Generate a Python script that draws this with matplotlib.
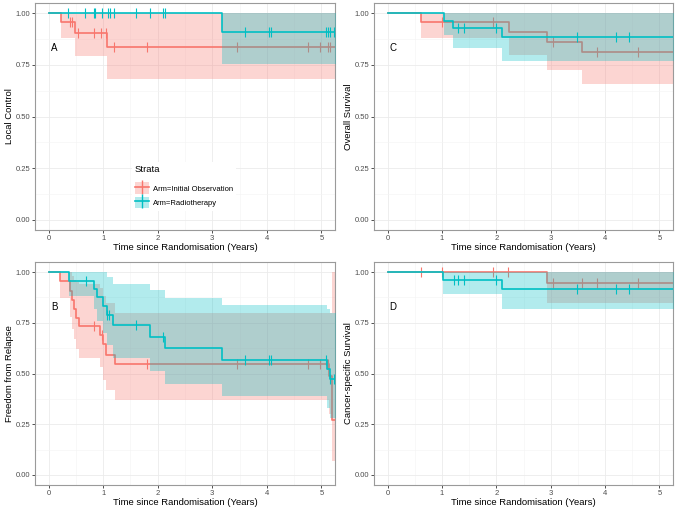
import numpy as np
import matplotlib
matplotlib.use("Agg")
import matplotlib.pyplot as plt
from matplotlib.patches import Patch
from matplotlib.lines import Line2D

plt.rcParams['font.family'] = ['Liberation Sans', 'DejaVu Sans']

RED = '#F8766D'
TEAL = '#00BFC4'
TMAX = 5.3

# ---------------- Panel A: Local Control ----------------
A_obs_t = [0, 0.22, 0.48, 1.07]
A_obs_s = [1.0, 0.956, 0.906, 0.835]
A_obs_lo = [1.0, 0.879, 0.792, 0.682]
A_obs_hi = [1.0, 1.0, 1.0, 1.0]
A_obs_cens = [0.40, 0.43, 0.54, 0.84, 0.96, 1.05, 1.20, 1.80, 3.45, 4.76, 4.97, 5.12, 5.15]
A_rt_t = [0, 3.17]
A_rt_s = [1.0, 0.909]
A_rt_lo = [1.0, 0.754]
A_rt_hi = [1.0, 1.0]
A_rt_cens = [0.36, 0.67, 0.83, 0.85, 0.97, 1.08, 1.12, 1.20, 1.60, 1.86, 2.10, 2.14,
             3.60, 4.04, 4.07, 5.09, 5.13, 5.15, 5.23]

# ---------------- Panel B: Freedom from Relapse ----------------
B_obs_t = [0, 0.21, 0.40, 0.43, 0.47, 0.50, 0.55, 0.94, 1.00, 1.05, 1.22, 5.14, 5.19]
B_obs_s = [1.0, 0.955, 0.909, 0.864, 0.818, 0.773, 0.736, 0.690, 0.644, 0.592, 0.545, 0.49, 0.27]
B_obs_lo = [1.0, 0.874, 0.78, 0.72, 0.67, 0.62, 0.575, 0.53, 0.47, 0.42, 0.37, 0.30, 0.07]
B_obs_hi = [1.0, 1.0, 1.0, 0.98, 0.96, 0.95, 0.94, 0.92, 0.88, 0.85, 0.80, 0.80, 1.0]
B_obs_cens = [0.83, 0.97, 1.80, 3.45, 4.76, 4.97, 5.10, 5.13]
B_rt_t = [0, 0.37, 0.83, 0.88, 0.99, 1.07, 1.18, 1.86, 2.14, 3.17, 5.10, 5.15]
B_rt_s = [1.0, 0.958, 0.917, 0.875, 0.833, 0.789, 0.737, 0.680, 0.625, 0.568, 0.52, 0.474]
B_rt_lo = [1.0, 0.882, 0.82, 0.76, 0.70, 0.64, 0.578, 0.513, 0.448, 0.39, 0.33, 0.28]
B_rt_hi = [1.0, 1.0, 1.0, 1.0, 1.0, 0.976, 0.942, 0.91, 0.872, 0.837, 0.82, 0.80]
B_rt_cens = [0.68, 1.07, 1.10, 1.60, 2.10, 3.60, 4.04, 4.07, 5.09, 5.15, 5.23]

# ---------------- Panel C: Overall Survival ----------------
C_obs_t = [0, 0.61, 2.23, 2.94, 3.57]
C_obs_s = [1.0, 0.958, 0.909, 0.861, 0.811]
C_obs_lo = [1.0, 0.879, 0.798, 0.727, 0.659]
C_obs_hi = [1.0, 1.0, 1.0, 1.0, 1.0]
C_obs_cens = [1.0, 1.94, 3.05, 3.85, 4.61]
C_rt_t = [0, 1.04, 1.20, 2.11]
C_rt_s = [1.0, 0.963, 0.927, 0.887]
C_rt_lo = [1.0, 0.896, 0.834, 0.771]
C_rt_hi = [1.0, 1.0, 1.0, 1.0]
C_rt_cens = [1.29, 1.41, 1.99, 3.48, 4.20, 4.44]

# ---------------- Panel D: Cancer-specific Survival ----------------
D_obs_t = [0, 2.94]
D_obs_s = [1.0, 0.947]
D_obs_lo = [1.0, 0.85]
D_obs_hi = [1.0, 1.0]
D_obs_cens = [0.61, 1.0, 1.94, 2.22, 3.05, 3.57, 3.85, 4.61]
D_rt_t = [0, 1.02, 2.11]
D_rt_s = [1.0, 0.961, 0.919]
D_rt_lo = [1.0, 0.893, 0.817]
D_rt_hi = [1.0, 1.0, 1.0]
D_rt_cens = [1.22, 1.29, 1.41, 1.99, 3.48, 4.20, 4.44]

y_ticks = [0.0, 0.25, 0.5, 0.75, 1.0]
y_ticklabels = ['0.00', '0.25', '0.50', '0.75', '1.00']
x_ticks = [0, 1, 2, 3, 4, 5]
x_ticklabels = ['0', '1', '2', '3', '4', '5']
legend_labels = ['Arm=Initial Observation', 'Arm=Radiotherapy']
xlabel = 'Time since Randomisation (Years)'

panels = [
    dict(pos=[35/677, 1-230/515, 300/677, 227/515], ylabel='Local Control', tag='A',
         obs=(A_obs_t, A_obs_s, A_obs_lo, A_obs_hi, A_obs_cens),
         rt=(A_rt_t, A_rt_s, A_rt_lo, A_rt_hi, A_rt_cens), legend=True),
    dict(pos=[374/677, 1-230/515, 299/677, 227/515], ylabel='Overall Survival', tag='C',
         obs=(C_obs_t, C_obs_s, C_obs_lo, C_obs_hi, C_obs_cens),
         rt=(C_rt_t, C_rt_s, C_rt_lo, C_rt_hi, C_rt_cens), legend=False),
    dict(pos=[35/677, 1-485/515, 300/677, 223/515], ylabel='Freedom from Relapse', tag='B',
         obs=(B_obs_t, B_obs_s, B_obs_lo, B_obs_hi, B_obs_cens),
         rt=(B_rt_t, B_rt_s, B_rt_lo, B_rt_hi, B_rt_cens), legend=False),
    dict(pos=[374/677, 1-485/515, 299/677, 223/515], ylabel='Cancer-specific Survival', tag='D',
         obs=(D_obs_t, D_obs_s, D_obs_lo, D_obs_hi, D_obs_cens),
         rt=(D_rt_t, D_rt_s, D_rt_lo, D_rt_hi, D_rt_cens), legend=False),
]

fig = plt.figure(figsize=(6.77, 5.15), dpi=100)


def draw_arm(ax, data, color, z):
    t, s, lo, hi, cens = data
    t_ext = list(t) + [TMAX]
    s_ext = list(s) + [s[-1]]
    lo_ext = list(lo) + [lo[-1]]
    hi_ext = list(hi) + [hi[-1]]
    ax.fill_between(t_ext, lo_ext, hi_ext, step='post', color=color, alpha=0.3,
                    linewidth=0, zorder=z)
    ax.step(t_ext, s_ext, where='post', color=color, lw=1.2, zorder=z + 1)
    idx = np.searchsorted(np.array(t), np.array(cens), side='right') - 1
    cy = np.array(s)[idx]
    ax.plot(cens, cy, linestyle='none', marker='|', ms=7, mew=0.8, color=color,
            zorder=z + 1)


for p in panels:
    ax = fig.add_axes(p['pos'])
    ax.set_xlim(-0.25, 5.25)
    ax.set_ylim(-0.05, 1.05)
    ax.set_xticks(x_ticks)
    ax.set_xticklabels(x_ticklabels)
    ax.set_yticks(y_ticks)
    ax.set_yticklabels(y_ticklabels)
    ax.set_xticks([0.5, 1.5, 2.5, 3.5, 4.5], minor=True)
    ax.set_yticks([0.125, 0.375, 0.625, 0.875], minor=True)
    ax.grid(which='major', color='#EBEBEB', lw=0.6)
    ax.grid(which='minor', color='#F4F4F4', lw=0.4)
    ax.tick_params(which='minor', length=0)
    ax.tick_params(which='major', length=2, width=0.6, color='#333333',
                   labelsize=5.5, labelcolor='#4D4D4D', pad=1.5)
    ax.set_axisbelow(True)
    for sp in ax.spines.values():
        sp.set_color('#9a9a9a')
        sp.set_linewidth(0.8)
    ax.set_xlabel(xlabel, fontsize=6.8, labelpad=1)
    ax.set_ylabel(p['ylabel'], fontsize=6.8, labelpad=1)

    draw_arm(ax, p['obs'], RED, 2)
    draw_arm(ax, p['rt'], TEAL, 4)

    ax.text(0.1, 0.83, p['tag'], fontsize=7, ha='center', va='center', zorder=10)

    if p['legend']:
        handles = [
            (Patch(facecolor=RED, alpha=0.3, edgecolor='none'),
             Line2D([], [], color=RED, lw=1.2, marker='|', ms=10, mew=1.0)),
            (Patch(facecolor=TEAL, alpha=0.3, edgecolor='none'),
             Line2D([], [], color=TEAL, lw=1.2, marker='|', ms=10, mew=1.0)),
        ]
        leg = ax.legend(handles, legend_labels, title='Strata', loc='upper left',
                        bbox_to_anchor=(0.31, 0.316), fontsize=5.5, title_fontsize=6.8,
                        frameon=True, facecolor='white', edgecolor='none', framealpha=1,
                        handlelength=1.8, handleheight=2.0, handletextpad=0.6,
                        labelspacing=0.3, borderpad=0.4)
        leg._legend_box.align = 'left'
        leg._legend_box.sep = 6
        leg.set_zorder(20)

fig.savefig('out.png', dpi=100)
